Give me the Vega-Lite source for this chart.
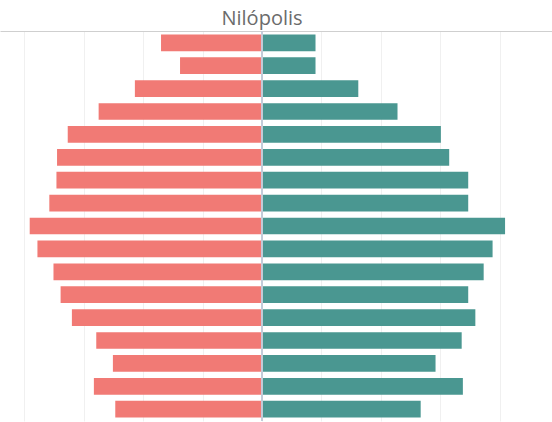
{
  "$schema": "https://vega.github.io/schema/vega-lite/v6.json",
  "width": 552,
  "height": 390,
  "autosize": "none",
  "padding": {"top": 31, "left": 0, "right": 0, "bottom": 1},
  "background": "white",
  "config": {"view": {"stroke": null}, "font": "Open Sans"},
  "title": {
    "text": "Nilópolis",
    "fontSize": 20,
    "fontWeight": "normal",
    "color": "#6b6b6b",
    "anchor": "middle",
    "frame": "group",
    "dx": -14,
    "offset": 2
  },
  "data": {
    "values": [
      {"faixa": "80+", "sexo": "Mulheres", "pct": 1.70},
      {"faixa": "75-79", "sexo": "Mulheres", "pct": 1.38},
      {"faixa": "70-74", "sexo": "Mulheres", "pct": 2.14},
      {"faixa": "65-69", "sexo": "Mulheres", "pct": 2.75},
      {"faixa": "60-64", "sexo": "Mulheres", "pct": 3.27},
      {"faixa": "55-59", "sexo": "Mulheres", "pct": 3.45},
      {"faixa": "50-54", "sexo": "Mulheres", "pct": 3.46},
      {"faixa": "45-49", "sexo": "Mulheres", "pct": 3.58},
      {"faixa": "40-44", "sexo": "Mulheres", "pct": 3.91},
      {"faixa": "35-39", "sexo": "Mulheres", "pct": 3.78},
      {"faixa": "30-34", "sexo": "Mulheres", "pct": 3.51},
      {"faixa": "25-29", "sexo": "Mulheres", "pct": 3.39},
      {"faixa": "20-24", "sexo": "Mulheres", "pct": 3.20},
      {"faixa": "15-19", "sexo": "Mulheres", "pct": 2.79},
      {"faixa": "10-14", "sexo": "Mulheres", "pct": 2.51},
      {"faixa": "5-9", "sexo": "Mulheres", "pct": 2.83},
      {"faixa": "0-4", "sexo": "Mulheres", "pct": 2.47},
      {"faixa": "80+", "sexo": "Homens", "pct": 0.90},
      {"faixa": "75-79", "sexo": "Homens", "pct": 0.90},
      {"faixa": "70-74", "sexo": "Homens", "pct": 1.62},
      {"faixa": "65-69", "sexo": "Homens", "pct": 2.28},
      {"faixa": "60-64", "sexo": "Homens", "pct": 3.01},
      {"faixa": "55-59", "sexo": "Homens", "pct": 3.15},
      {"faixa": "50-54", "sexo": "Homens", "pct": 3.47},
      {"faixa": "45-49", "sexo": "Homens", "pct": 3.47},
      {"faixa": "40-44", "sexo": "Homens", "pct": 4.09},
      {"faixa": "35-39", "sexo": "Homens", "pct": 3.88},
      {"faixa": "30-34", "sexo": "Homens", "pct": 3.73},
      {"faixa": "25-29", "sexo": "Homens", "pct": 3.47},
      {"faixa": "20-24", "sexo": "Homens", "pct": 3.59},
      {"faixa": "15-19", "sexo": "Homens", "pct": 3.36},
      {"faixa": "10-14", "sexo": "Homens", "pct": 2.92},
      {"faixa": "5-9", "sexo": "Homens", "pct": 3.38},
      {"faixa": "0-4", "sexo": "Homens", "pct": 2.67}
    ]
  },
  "transform": [
    {"calculate": "datum.sexo === 'Mulheres' ? -datum.pct : datum.pct", "as": "lado"}
  ],
  "layer": [
    {
      "mark": {"type": "bar"},
      "encoding": {
        "y": {
          "field": "faixa",
          "type": "ordinal",
          "sort": ["80+", "75-79", "70-74", "65-69", "60-64", "55-59", "50-54", "45-49", "40-44", "35-39", "30-34", "25-29", "20-24", "15-19", "10-14", "5-9", "0-4"],
          "scale": {"paddingInner": 0.27, "paddingOuter": 0.15},
          "axis": null
        },
        "x": {
          "field": "lado",
          "type": "quantitative",
          "scale": {"domain": [-4.41, 4.88], "nice": false},
          "axis": {
            "orient": "top",
            "values": [-4, -3, -2, -1, 0, 1, 2, 3, 4],
            "labels": false,
            "ticks": false,
            "title": null,
            "domain": true,
            "domainColor": "#cfcfcf",
            "domainWidth": 1,
            "grid": true,
            "gridColor": "#f0f0f0",
            "gridWidth": 1
          }
        },
        "color": {
          "field": "sexo",
          "type": "nominal",
          "scale": {"domain": ["Mulheres", "Homens"], "range": ["#f17a75", "#4a9791"]},
          "legend": null
        }
      }
    },
    {
      "mark": {"type": "rule", "color": "#c3cbd8", "strokeWidth": 1},
      "encoding": {"x": {"datum": 0, "type": "quantitative"}}
    }
  ]
}
